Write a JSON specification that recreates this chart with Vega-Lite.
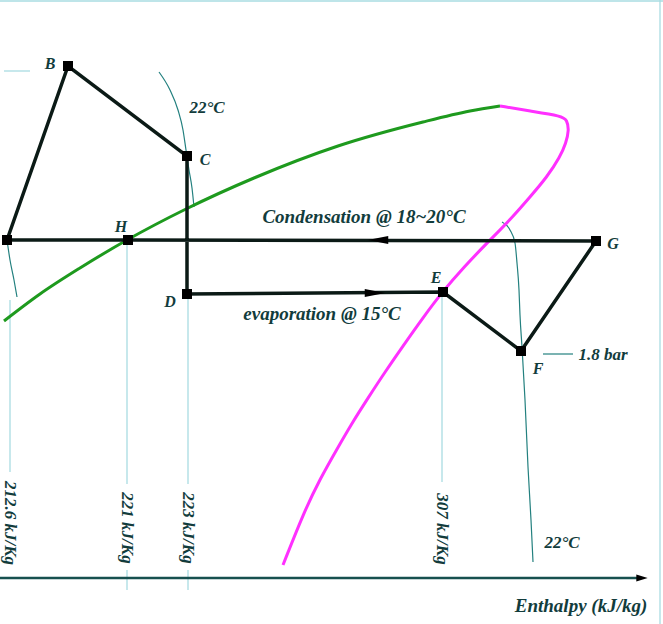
{
  "$schema": "https://vega.github.io/schema/vega-lite/v6.json",
  "width": 663,
  "height": 624,
  "padding": 0,
  "autosize": {"type": "none"},
  "background": "white",
  "config": {"view": {"stroke": null}},
  "datasets": {
    "iso": [
      {"id": "iso22a", "ord": 1, "x": 159, "y": 72},
      {"id": "iso22a", "ord": 2, "x": 170, "y": 90},
      {"id": "iso22a", "ord": 3, "x": 178, "y": 110},
      {"id": "iso22a", "ord": 4, "x": 183, "y": 130},
      {"id": "iso22a", "ord": 5, "x": 186, "y": 150},
      {"id": "iso22a", "ord": 6, "x": 189, "y": 170},
      {"id": "iso22a", "ord": 7, "x": 192, "y": 188},
      {"id": "iso22a", "ord": 8, "x": 194, "y": 207},
      {"id": "isoA", "ord": 1, "x": 7, "y": 240},
      {"id": "isoA", "ord": 2, "x": 10, "y": 260},
      {"id": "isoA", "ord": 3, "x": 14, "y": 280},
      {"id": "isoA", "ord": 4, "x": 17, "y": 297},
      {"id": "isoR", "ord": 1, "x": 502, "y": 222},
      {"id": "isoR", "ord": 2, "x": 510, "y": 230},
      {"id": "isoR", "ord": 3, "x": 515, "y": 243},
      {"id": "isoR", "ord": 4, "x": 517, "y": 263},
      {"id": "isoR", "ord": 5, "x": 519, "y": 290},
      {"id": "isoR", "ord": 6, "x": 520, "y": 315},
      {"id": "isoR", "ord": 7, "x": 522, "y": 347},
      {"id": "isoR", "ord": 8, "x": 525, "y": 400},
      {"id": "isoR", "ord": 9, "x": 528, "y": 467},
      {"id": "isoR", "ord": 10, "x": 531, "y": 520},
      {"id": "isoR", "ord": 11, "x": 533, "y": 562},
      {"id": "bar", "ord": 1, "x": 543, "y": 354},
      {"id": "bar", "ord": 2, "x": 573, "y": 354}
    ],
    "guides": [
      {"id": "top", "ord": 1, "x": 0, "y": 1},
      {"id": "top", "ord": 2, "x": 663, "y": 1},
      {"id": "right", "ord": 1, "x": 660, "y": 0},
      {"id": "right", "ord": 2, "x": 660, "y": 624},
      {"id": "bl", "ord": 1, "x": 4, "y": 71},
      {"id": "bl", "ord": 2, "x": 30, "y": 71},
      {"id": "d1", "ord": 1, "x": 10, "y": 300},
      {"id": "d1", "ord": 2, "x": 10, "y": 472},
      {"id": "d2", "ord": 1, "x": 127, "y": 240},
      {"id": "d2", "ord": 2, "x": 127, "y": 484},
      {"id": "d2b", "ord": 1, "x": 127, "y": 570},
      {"id": "d2b", "ord": 2, "x": 127, "y": 590},
      {"id": "d3", "ord": 1, "x": 188, "y": 293},
      {"id": "d3", "ord": 2, "x": 188, "y": 484},
      {"id": "d3b", "ord": 1, "x": 188, "y": 570},
      {"id": "d3b", "ord": 2, "x": 188, "y": 590},
      {"id": "d4", "ord": 1, "x": 442, "y": 292},
      {"id": "d4", "ord": 2, "x": 442, "y": 482}
    ],
    "green": [
      {"ord": 1, "x": 4, "y": 321},
      {"ord": 2, "x": 40, "y": 294},
      {"ord": 3, "x": 80, "y": 268},
      {"ord": 4, "x": 127, "y": 240},
      {"ord": 5, "x": 186, "y": 209},
      {"ord": 6, "x": 254, "y": 178},
      {"ord": 7, "x": 338, "y": 146},
      {"ord": 8, "x": 423, "y": 122},
      {"ord": 9, "x": 470, "y": 111},
      {"ord": 10, "x": 500, "y": 106}
    ],
    "magenta": [
      {"ord": 1, "x": 500, "y": 106},
      {"ord": 2, "x": 530, "y": 111},
      {"ord": 3, "x": 562, "y": 116},
      {"ord": 4, "x": 567, "y": 120},
      {"ord": 5, "x": 569, "y": 130},
      {"ord": 6, "x": 566, "y": 143},
      {"ord": 7, "x": 560, "y": 157},
      {"ord": 8, "x": 547, "y": 177},
      {"ord": 9, "x": 530, "y": 197},
      {"ord": 10, "x": 510, "y": 220},
      {"ord": 11, "x": 487, "y": 243},
      {"ord": 12, "x": 464, "y": 267},
      {"ord": 13, "x": 443, "y": 291},
      {"ord": 14, "x": 422, "y": 319},
      {"ord": 15, "x": 403, "y": 346},
      {"ord": 16, "x": 385, "y": 372},
      {"ord": 17, "x": 368, "y": 398},
      {"ord": 18, "x": 352, "y": 423},
      {"ord": 19, "x": 337, "y": 449},
      {"ord": 20, "x": 320, "y": 479},
      {"ord": 21, "x": 304, "y": 512},
      {"ord": 22, "x": 283, "y": 565}
    ],
    "cycle": [
      {"ord": 1, "pt": "A", "x": 7, "y": 240},
      {"ord": 2, "pt": "B", "x": 68, "y": 66},
      {"ord": 3, "pt": "C", "x": 187, "y": 156},
      {"ord": 4, "pt": "D", "x": 187, "y": 294},
      {"ord": 5, "pt": "E", "x": 443, "y": 292},
      {"ord": 6, "pt": "F", "x": 521, "y": 351},
      {"ord": 7, "pt": "G", "x": 596, "y": 241},
      {"ord": 8, "pt": "H", "x": 128, "y": 240},
      {"ord": 9, "pt": "A", "x": 7, "y": 240}
    ],
    "axis": [
      {"ord": 1, "x": 0, "y": 578},
      {"ord": 2, "x": 640, "y": 578}
    ],
    "arrowsL": [{"x": 378, "y": 240}],
    "arrowsR": [{"x": 375, "y": 293}],
    "axisArrow": [{"x": 642, "y": 578}],
    "ptLabels": [
      {"t": "B", "x": 50, "y": 64},
      {"t": "C", "x": 205, "y": 160},
      {"t": "H", "x": 121, "y": 227},
      {"t": "G", "x": 613, "y": 244},
      {"t": "D", "x": 170, "y": 302},
      {"t": "E", "x": 436, "y": 278},
      {"t": "F", "x": 538, "y": 369}
    ],
    "smallNotes": [
      {"t": "22°C", "x": 207, "y": 108},
      {"t": "22°C", "x": 562, "y": 543},
      {"t": "1.8 bar", "x": 603, "y": 355}
    ],
    "notes": [
      {"t": "Condensation @ 18~20°C", "x": 364, "y": 217},
      {"t": "evaporation @ 15°C", "x": 322, "y": 314},
      {"t": "Enthalpy (kJ/kg)", "x": 581, "y": 606}
    ],
    "hLabels": [
      {"t": "212.6 kJ/Kg", "x": 10, "y": 523},
      {"t": "221 kJ/Kg", "x": 127, "y": 528},
      {"t": "223 kJ/Kg", "x": 188, "y": 528},
      {"t": "307 kJ/Kg", "x": 442, "y": 529}
    ]
  },
  "encoding": {
    "x": {"field": "x", "type": "quantitative", "scale": {"domain": [0, 663], "nice": false, "zero": false}, "axis": null},
    "y": {"field": "y", "type": "quantitative", "scale": {"domain": [0, 624], "nice": false, "zero": false, "reverse": true}, "axis": null}
  },
  "layer": [
    {
      "data": {"name": "guides"},
      "mark": {"type": "line", "color": "#a9dce2", "strokeWidth": 1.3},
      "encoding": {"detail": {"field": "id"}, "order": {"field": "ord", "type": "quantitative"}}
    },
    {
      "data": {"name": "iso"},
      "mark": {"type": "line", "color": "#23807f", "strokeWidth": 1.2, "interpolate": "monotone"},
      "encoding": {"detail": {"field": "id"}, "order": {"field": "ord", "type": "quantitative"}}
    },
    {
      "data": {"name": "green"},
      "mark": {"type": "line", "color": "#1e9a1e", "strokeWidth": 3, "interpolate": "monotone"},
      "encoding": {"order": {"field": "ord", "type": "quantitative"}}
    },
    {
      "data": {"name": "magenta"},
      "mark": {"type": "line", "color": "#ff30ff", "strokeWidth": 3, "interpolate": "basis"},
      "encoding": {"order": {"field": "ord", "type": "quantitative"}}
    },
    {
      "data": {"name": "cycle"},
      "mark": {"type": "line", "color": "#0b1a16", "strokeWidth": 3.5, "strokeJoin": "miter"},
      "encoding": {"order": {"field": "ord", "type": "quantitative"}}
    },
    {
      "data": {"name": "cycle"},
      "mark": {"type": "point", "shape": "square", "filled": true, "color": "#000000", "size": 100, "opacity": 1},
      "encoding": {}
    },
    {
      "data": {"name": "arrowsL"},
      "mark": {"type": "point", "shape": "M-1,0L1,-0.4L1,0.4Z", "filled": true, "color": "#000000", "size": 420, "opacity": 1},
      "encoding": {}
    },
    {
      "data": {"name": "arrowsR"},
      "mark": {"type": "point", "shape": "M1,0L-1,-0.4L-1,0.4Z", "filled": true, "color": "#000000", "size": 420, "opacity": 1},
      "encoding": {}
    },
    {
      "data": {"name": "axis"},
      "mark": {"type": "line", "color": "#17504f", "strokeWidth": 2.5},
      "encoding": {"order": {"field": "ord", "type": "quantitative"}}
    },
    {
      "data": {"name": "axisArrow"},
      "mark": {"type": "point", "shape": "M1,0L-1,-0.6L-1,0.6Z", "filled": true, "color": "#000000", "size": 130, "opacity": 1},
      "encoding": {}
    },
    {
      "data": {"name": "ptLabels"},
      "mark": {"type": "text", "font": "Liberation Serif", "fontStyle": "italic", "fontWeight": "bold", "fontSize": 16, "color": "#123c3c", "align": "center", "baseline": "middle"},
      "encoding": {"text": {"field": "t"}}
    },
    {
      "data": {"name": "smallNotes"},
      "mark": {"type": "text", "font": "Liberation Serif", "fontStyle": "italic", "fontWeight": "bold", "fontSize": 17, "color": "#123c3c", "align": "center", "baseline": "middle"},
      "encoding": {"text": {"field": "t"}}
    },
    {
      "data": {"name": "notes"},
      "mark": {"type": "text", "font": "Liberation Serif", "fontStyle": "italic", "fontWeight": "bold", "fontSize": 19, "color": "#123c3c", "align": "center", "baseline": "middle"},
      "encoding": {"text": {"field": "t"}}
    },
    {
      "data": {"name": "hLabels"},
      "mark": {"type": "text", "font": "Liberation Serif", "fontStyle": "italic", "fontWeight": "bold", "fontSize": 17, "color": "#123c3c", "align": "center", "baseline": "middle", "angle": 90},
      "encoding": {"text": {"field": "t"}}
    }
  ]
}
